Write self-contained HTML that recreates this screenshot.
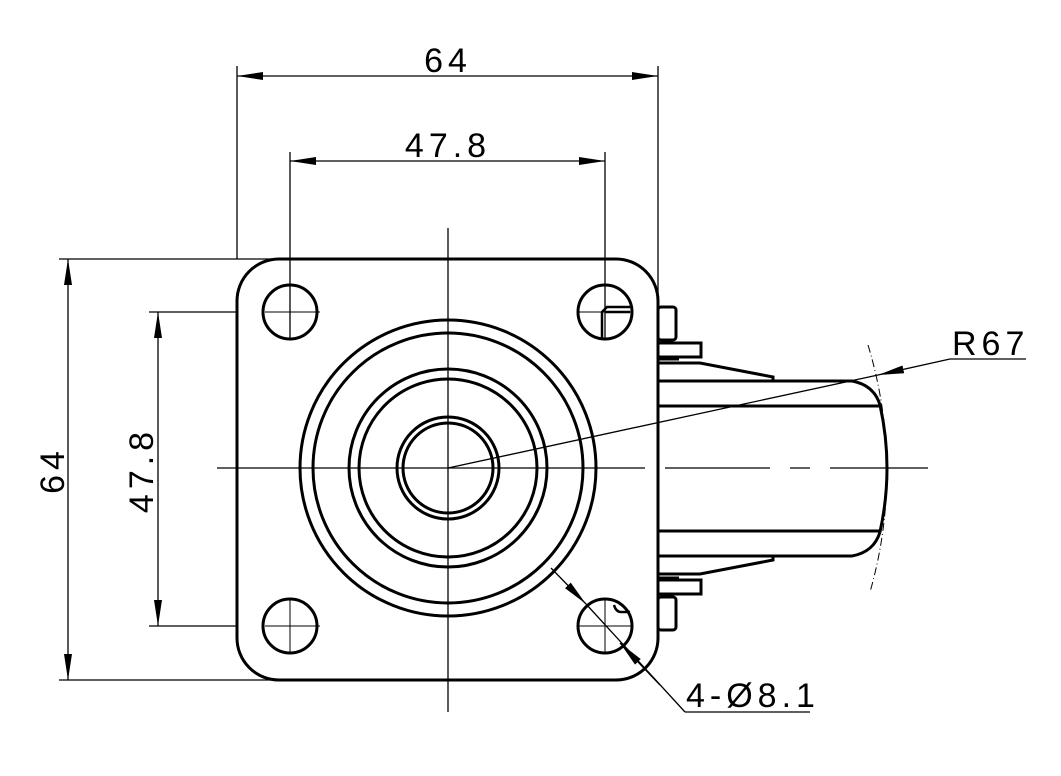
<!DOCTYPE html>
<html><head><meta charset="utf-8"><style>
html,body{margin:0;padding:0;background:#fff;}
svg{display:block;}
text{font-family:"Liberation Sans",sans-serif;font-size:34px;fill:#000;letter-spacing:5px;}
</style></head><body>
<svg width="1061" height="776" viewBox="0 0 1061 776" xmlns="http://www.w3.org/2000/svg">
<defs>
<marker id="a" viewBox="0 0 26 8" refX="26" refY="4" markerWidth="26" markerHeight="8" markerUnits="userSpaceOnUse" orient="auto"><path d="M0,0 L26,4 L0,8 z" fill="#000"/></marker>
<marker id="b" viewBox="0 0 26 8" refX="0" refY="4" markerWidth="26" markerHeight="8" markerUnits="userSpaceOnUse" orient="auto"><path d="M26,0 L0,4 L26,8 z" fill="#000"/></marker>
</defs>
<g stroke="#000" stroke-width="1.3" fill="none">
<line x1="237" y1="66" x2="237" y2="259"/>
<line x1="658" y1="66" x2="658" y2="300"/>
<line x1="237" y1="76" x2="658" y2="76" marker-start="url(#b)" marker-end="url(#a)"/>
<line x1="290" y1="152" x2="290" y2="340"/>
<line x1="605" y1="152" x2="605" y2="340"/>
<line x1="290" y1="161" x2="605" y2="161" marker-start="url(#b)" marker-end="url(#a)"/>
<line x1="59" y1="259" x2="290" y2="259"/>
<line x1="59" y1="680" x2="290" y2="680"/>
<line x1="68" y1="259" x2="68" y2="680" marker-start="url(#b)" marker-end="url(#a)"/>
<line x1="149" y1="312" x2="237" y2="312"/>
<line x1="149" y1="626" x2="237" y2="626"/>
<line x1="158" y1="312" x2="158" y2="626" marker-start="url(#b)" marker-end="url(#a)"/>
<line x1="448" y1="228" x2="448" y2="712"/>
<line x1="217" y1="468" x2="625" y2="468"/>
<line x1="625" y1="468" x2="928" y2="468" stroke-dasharray="20,20,105,20"/>
<g stroke-width="1">
<line x1="265" y1="312" x2="320" y2="312"/><line x1="290" y1="284" x2="290" y2="340"/>
<line x1="577" y1="312" x2="632" y2="312"/>
<line x1="265" y1="626" x2="320" y2="626"/><line x1="290" y1="598" x2="290" y2="654"/>
<line x1="577" y1="626" x2="632" y2="626"/><line x1="605" y1="598" x2="605" y2="654"/>
</g>
<path d="M868,345 A436,436 0 0 1 870,592" stroke-width="1" stroke-dasharray="8,3,1,3"/>
<line x1="448" y1="468" x2="878" y2="375"/>
<line x1="950" y1="359" x2="878" y2="375" marker-end="url(#a)"/>
<line x1="950" y1="359" x2="1026" y2="359"/>
<line x1="551" y1="568" x2="586" y2="604" marker-end="url(#a)"/>
<line x1="586" y1="604" x2="685" y2="712"/>
<line x1="660" y1="685" x2="620" y2="643" marker-end="url(#a)"/>
<line x1="685" y1="712" x2="810" y2="712"/>
</g>
<g stroke="#000" stroke-width="3" fill="none">
<rect x="237" y="259" width="421" height="421" rx="42"/>
<circle cx="290" cy="312" r="27"/><circle cx="605" cy="312" r="27"/>
<circle cx="290" cy="626" r="27"/><circle cx="605" cy="626" r="27"/>
<circle cx="448" cy="468" r="148"/>
<circle cx="448" cy="468" r="135"/>
<circle cx="448" cy="468" r="99"/>
<circle cx="448" cy="468" r="89"/>
<circle cx="448" cy="468" r="51"/>
<circle cx="448" cy="468" r="45"/>
<path d="M602,340 V312 L607,307 H630 M605,312 H630" stroke-width="2.5"/>
<path d="M614,605 Q616,612 621,612 H630" stroke-width="2.5"/>
<line x1="658" y1="300" x2="658" y2="640"/>
<g id="br">
<rect x="658" y="307" width="18" height="33" rx="3"/>
<rect x="658" y="343" width="43" height="14"/>
<line x1="658" y1="359" x2="679" y2="359"/>
<path d="M658,363 H700 L773,377 V381"/>
<path d="M658,381 H852 Q874,385 880,405"/>
<line x1="658" y1="406" x2="880" y2="406"/>
</g>
<use href="#br" transform="translate(0,937) scale(1,-1)"/>
<path d="M880,405 Q894,468 880,532"/>
</g>
<text x="448" y="72" text-anchor="middle">64</text>
<text x="448" y="157" text-anchor="middle">47.8</text>
<text transform="translate(64,470) rotate(-90)" text-anchor="middle">64</text>
<text transform="translate(153,470) rotate(-90)" text-anchor="middle">47.8</text>
<text x="952" y="355">R67</text>
<text x="686" y="707">4-Ø8.1</text>
</svg>
</body></html>
